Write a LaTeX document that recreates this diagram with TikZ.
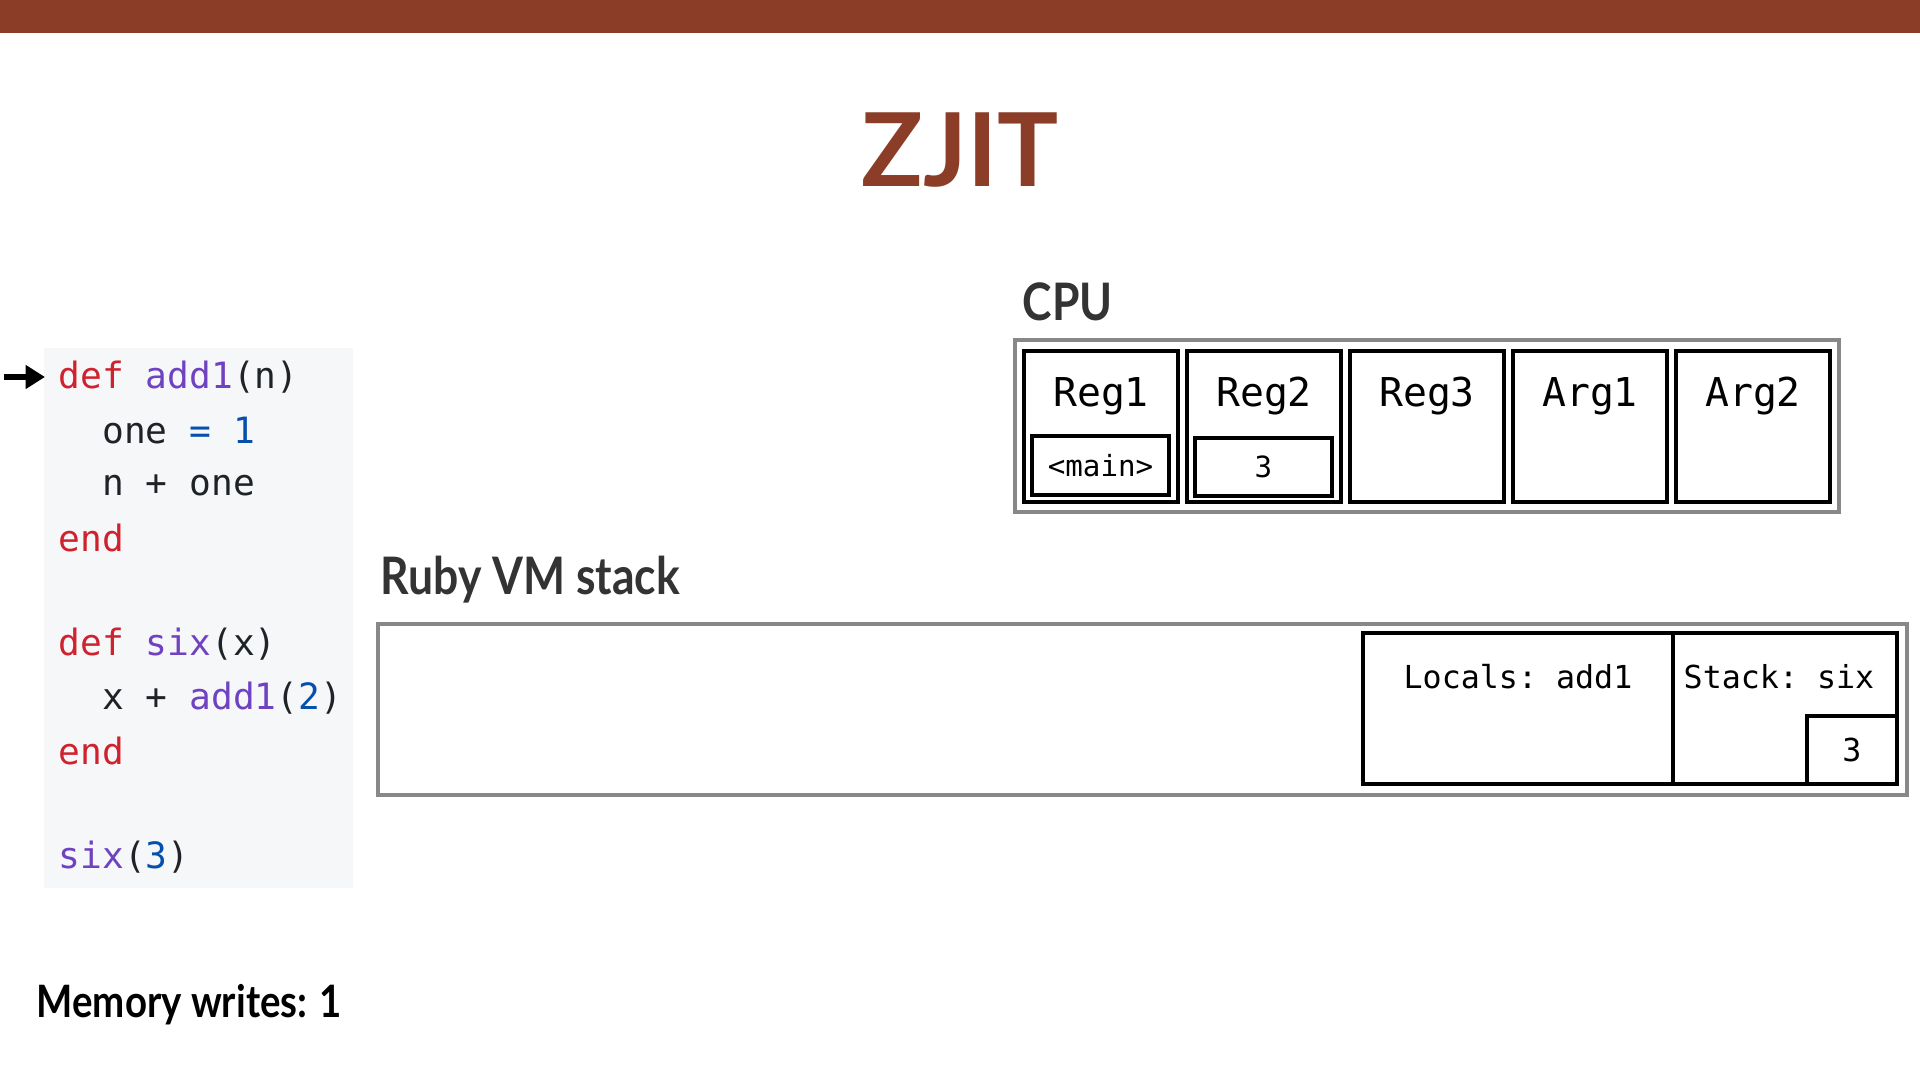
\documentclass[tikz,border=0pt]{standalone}
\usepackage{fontspec}
\setmainfont{Lato}
\setmonofont{DejaVu Sans Mono}
\newfontfamily\headfont{Lato}[FakeStretch=0.86]
\usetikzlibrary{arrows.meta,positioning}
\definecolor{zjit}{HTML}{8B3D27}
\definecolor{codebg}{HTML}{F6F7F9}
\definecolor{kw}{HTML}{CF222E}
\definecolor{fn}{HTML}{6F42C1}
\definecolor{num}{HTML}{0550AE}
\definecolor{txt}{HTML}{1F2328}
\definecolor{head}{HTML}{333333}
\definecolor{frame}{HTML}{888888}
\newcommand{\K}[1]{\textcolor{kw}{#1}}
\newcommand{\F}[1]{\textcolor{fn}{#1}}
\newcommand{\N}[1]{\textcolor{num}{#1}}
\tikzset{code/.style={anchor=west,inner sep=0pt,font=\ttfamily\fontsize{10.3}{12}\selectfont,text=txt},
heading/.style={anchor=west,inner sep=0pt,font=\headfont\fontsize{14.7}{16}\selectfont\bfseries,text=head},
outer/.style={draw=frame,line width=1.1pt},
reg/.style={draw,line width=1.1pt,minimum width=1.54cm,minimum height=1.51cm,inner sep=0pt},
regname/.style={font=\ttfamily\fontsize{11.3}{13}\selectfont,inner sep=0pt},
cell/.style={draw,line width=1.1pt,inner sep=0pt,font=\ttfamily\fontsize{8.3}{10}\selectfont},
frm/.style={draw,line width=1.1pt,minimum height=1.51cm,inner sep=0pt},
frmname/.style={font=\ttfamily\fontsize{9}{11}\selectfont,inner sep=0pt},
ptr/.style={-{Triangle[length=5.5pt,width=6.5pt]},line width=1.6pt}}

\begin{document}
\begin{tikzpicture}[x=0.01cm,y=-0.01cm]
\useasboundingbox (0,0) rectangle (1920,1080);
\fill[zjit] (0,0) rectangle (1920,33);
\node[font=\fontsize{29}{32}\selectfont\bfseries,text=zjit,inner sep=0pt] (title) at (960,150) {ZJIT};
% code
\fill[codebg] (44,348) rectangle (353,888);
\node[code] (l1) at (58,377) {\K{def} \F{add1}(n)};
\node[code] (l2) at (58,431) {\ \ one \N{=} \N{1}};
\node[code] (l3) at (58,485) {\ \ n + one};
\node[code] (l4) at (58,538) {\K{end}};
\node[code] (l5) at (58,644) {\K{def} \F{six}(x)};
\node[code] (l6) at (58,698) {\ \ x + \F{add1}(\N{2})};
\node[code] (l7) at (58,751) {\K{end}};
\node[code] (l8) at (58,857) {\F{six}(\N{3})};
\coordinate (pc) at (4,377);
\draw[ptr,shorten >=1.3mm] (pc) -- (l1.west);
% cpu
\node[heading] (cpu) at (1022,302) {CPU};
\draw[outer] (1015,340) rectangle (1839,512);
\node[reg] (reg1) at (1101,426.5) {};
\node[reg] (reg2) at (1264,426.5) {};
\node[reg] (reg3) at (1427,426.5) {};
\node[reg] (arg1) at (1590,426.5) {};
\node[reg] (arg2) at (1753,426.5) {};
\node[regname] at (1101,396) {Reg1};
\node[regname] at (1264,396) {Reg2};
\node[regname] at (1427,396) {Reg3};
\node[regname] at (1590,396) {Arg1};
\node[regname] at (1753,396) {Arg2};
\node[cell,minimum width=1.37cm,minimum height=0.59cm] (ret) at (1100.5,465.5) {<main>};
\node[cell,minimum width=1.37cm,minimum height=0.58cm] (val) at (1263.5,467) {3};
% vm stack
\node[heading] (vm) at (380,580) {Ruby VM stack};
\draw[outer] (378,624) rectangle (1907,795);
\node[frm,minimum width=3.10cm] (locals) at (1518,708.5) {};
\node[frm,minimum width=2.24cm] (stack) at (1785,708.5) {};
\node[frmname] at (1518,677) {Locals: add1};
\node[frmname] at (1779,677) {Stack: six};
\node[cell,minimum width=0.90cm,minimum height=0.68cm,font=\ttfamily\fontsize{9}{11}\selectfont] (top) at (1852,750) {3};
\node[heading,text=black,font=\headfont\fontsize{12.7}{14}\selectfont\bfseries] (writes) at (36,1005) {Memory writes: 1};
\end{tikzpicture}
\end{document}
